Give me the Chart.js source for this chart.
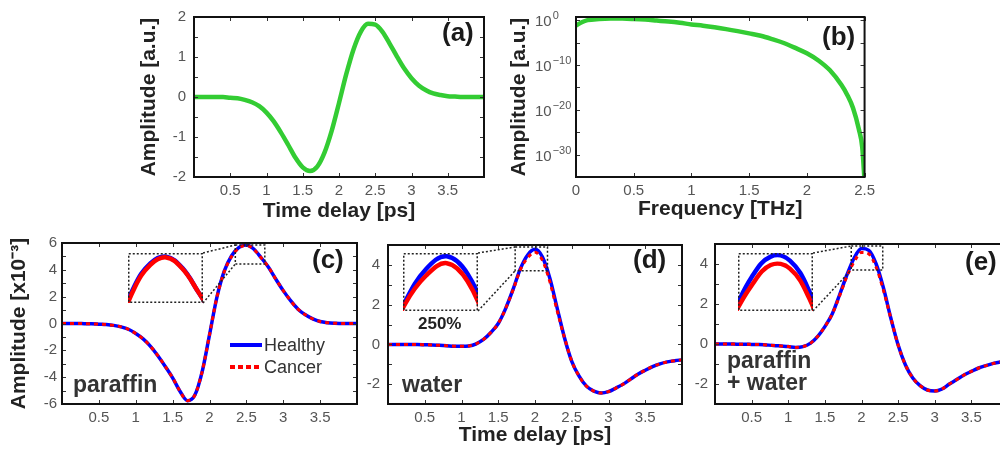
<!DOCTYPE html>
<html>
<head>
<meta charset="utf-8">
<script src="https://cdn.jsdelivr.net/npm/chart.js@4.4.1/dist/chart.umd.min.js"></script>
<style>
  html, body { margin: 0; padding: 0; background: #fff; }
  body { width: 1000px; height: 452px; overflow: hidden; position: relative; }
  canvas { position: absolute; }
</style>
</head>
<body>
<script>
// time axis shared by (a), (c), (d), (e)  [ps]
var timePs = [0, 0.1, 0.2, 0.3, 0.4, 0.5, 0.6, 0.7, 0.8, 0.9,
              1.0, 1.1, 1.2, 1.3, 1.4, 1.5, 1.6, 1.7, 1.8, 1.9,
              2.0, 2.1, 2.2, 2.3, 2.4, 2.5, 2.6, 2.7, 2.8, 2.9,
              3.0, 3.1, 3.2, 3.3, 3.4, 3.5, 3.6, 3.7, 3.8, 3.9, 4.0];

// (a) reference pulse [a.u.]
var refPulse = [0, 0, 0, 0, 0, -0.02, -0.03, -0.07, -0.13, -0.23,
                -0.39, -0.61, -0.89, -1.20, -1.52, -1.76, -1.85, -1.74, -1.39, -0.84,
                -0.15, 0.57, 1.19, 1.63, 1.83, 1.81, 1.63, 1.33, 1.01, 0.71,
                0.47, 0.29, 0.17, 0.09, 0.05, 0.02, 0.01, 0, 0, 0, 0];

// (b) reference spectrum
var freqTHz = [0, 0.05, 0.1, 0.2, 0.3, 0.4, 0.5, 0.6, 0.7, 0.8, 0.9, 1.0, 1.1, 1.2, 1.3,
               1.4, 1.5, 1.6, 1.7, 1.8, 1.9, 2.0, 2.1, 2.2, 2.3, 2.35, 2.4, 2.45, 2.48, 2.5];
var refSpectrum = [6.3e-2, 3.4e-1, 1.0, 1.8, 2.2, 2.2, 1.8, 1.3, 7.9e-1, 4.8e-1, 2.5e-1, 1.1e-1, 5.6e-2, 2.5e-2, 1.0e-2,
                   3.5e-3, 1.1e-3, 3.2e-4, 5.6e-5, 7.9e-6, 6.3e-7, 4.0e-8, 1.0e-9, 6.3e-12, 3.2e-15, 2.0e-17, 2.5e-20, 5.0e-25, 4.0e-29, 1e-36];

// (c) paraffin [x10^-3]
var paraffinHealthy = [0, 0, 0, -0.01, -0.02, -0.05, -0.08, -0.14, -0.25, -0.43,
                       -0.75, -1.15, -1.7, -2.4, -3.2, -4.05, -5.05, -5.75, -5.35, -3.6,
                       -0.85, 1.95, 3.9, 5.05, 5.67, 5.85, 5.55, 4.9, 4.2, 3.3,
                       2.45, 1.7, 1.07, 0.65, 0.35, 0.15, 0.06, 0.02, 0, 0, 0];
var paraffinCancer  = [0, 0, 0, -0.01, -0.02, -0.05, -0.08, -0.14, -0.25, -0.43,
                       -0.75, -1.15, -1.7, -2.4, -3.2, -4.05, -5.05, -5.75, -5.35, -3.6,
                       -0.85, 1.95, 3.86, 5.0, 5.63, 5.83, 5.53, 4.9, 4.2, 3.3,
                       2.45, 1.7, 1.07, 0.65, 0.35, 0.15, 0.06, 0.02, 0, 0, 0];

// (d) water
var waterHealthy = [0, 0, 0, -0.01, -0.01, -0.02, -0.03, -0.05, -0.07, -0.09,
                    -0.1, -0.08, 0.03, 0.25, 0.6, 1.05, 1.8, 2.75, 3.8, 4.5,
                    4.78, 4.4, 3.35, 1.85, 0.35, -0.85, -1.6, -2.1, -2.35, -2.45,
                    -2.38, -2.2, -2.0, -1.75, -1.5, -1.3, -1.12, -0.98, -0.88, -0.82, -0.78];
var waterCancer  = [0, 0, 0, -0.01, -0.01, -0.02, -0.03, -0.05, -0.07, -0.09,
                    -0.1, -0.08, 0.03, 0.25, 0.6, 1.05, 1.8, 2.72, 3.75, 4.36,
                    4.63, 4.24, 3.18, 1.72, 0.35, -0.85, -1.6, -2.1, -2.35, -2.45,
                    -2.38, -2.2, -2.0, -1.75, -1.5, -1.3, -1.12, -0.98, -0.88, -0.82, -0.78];

// (e) paraffin + water
var mixHealthy = [0, 0, 0, -0.01, -0.01, -0.02, -0.03, -0.05, -0.07, -0.1,
                  -0.13, -0.17, -0.13, 0.03, 0.37, 0.87, 1.5, 2.45, 3.45, 4.3,
                  4.77, 4.68, 4.0, 2.8, 1.3, -0.05, -1.05, -1.7, -2.08, -2.3,
                  -2.35, -2.25, -2.0, -1.78, -1.55, -1.37, -1.2, -1.08, -0.97, -0.9, -0.85];
var mixCancer  = [0, 0, 0, -0.01, -0.01, -0.02, -0.03, -0.05, -0.07, -0.1,
                  -0.13, -0.17, -0.13, 0.03, 0.37, 0.87, 1.5, 2.4, 3.38, 4.12,
                  4.58, 4.5, 3.84, 2.68, 1.3, -0.05, -1.05, -1.7, -2.08, -2.3,
                  -2.35, -2.25, -2.0, -1.78, -1.55, -1.37, -1.2, -1.08, -0.97, -0.9, -0.85];

// ticks
var timeTicks = [0.5, 1, 1.5, 2, 2.5, 3, 3.5];
var freqTicks = [0, 0.5, 1, 1.5, 2, 2.5];
var pulseTicks = [-2, -1.5, -1, -0.5, 0, 0.5, 1, 1.5, 2];
var pulseLabels = [-2, -1, 0, 1, 2];
var paraffinTicks = [-6, -5, -4, -3, -2, -1, 0, 1, 2, 3, 4, 5, 6];
var paraffinLabels = [-6, -4, -2, 0, 2, 4, 6];
var waterTicks = [-3, -2, -1, 0, 1, 2, 3, 4, 5];
var waterLabels = [-2, 0, 2, 4];
var spectrumTicks = [1, 1e-5, 1e-10, 1e-15, 1e-20, 1e-25, 1e-30];
var spectrumExps = [0, -10, -20, -30];

var FONT = "'Liberation Sans', Arial, Helvetica, sans-serif";
var GREEN = '#33cc33', BLUE = '#0000ff', RED = '#ff0000';
Chart.defaults.font.family = FONT;

function xy(xs, ys) {
  return xs.map(function(x, i) { return { x: x, y: ys[i] }; });
}

function addCanvas(b) {
  var c = document.createElement('canvas');
  c.width = b[2]; c.height = b[3];
  c.style.left = b[0] + 'px'; c.style.top = b[1] + 'px';
  c.style.width = b[2] + 'px'; c.style.height = b[3] + 'px';
  document.body.appendChild(c);
  return c;
}

// matlab style box with inner ticks on all sides
var frame = {
  id: 'frame',
  afterDatasetsDraw: function(chart) {
    var ctx = chart.ctx, a = chart.chartArea;
    var xs = chart.scales.x, ys = chart.scales.y;
    ctx.save();
    ctx.strokeStyle = '#333';
    ctx.lineWidth = 1;
    ctx.beginPath();
    xs.ticks.forEach(function(t) {
      var p = Math.round(xs.getPixelForValue(t.value)) + 0.5;
      ctx.moveTo(p, a.bottom); ctx.lineTo(p, a.bottom - 4);
      ctx.moveTo(p, a.top); ctx.lineTo(p, a.top + 4);
    });
    ys.ticks.forEach(function(t) {
      var p = Math.round(ys.getPixelForValue(t.value)) + 0.5;
      ctx.moveTo(a.left, p); ctx.lineTo(a.left + 4, p);
      ctx.moveTo(a.right, p); ctx.lineTo(a.right - 4, p);
    });
    ctx.stroke();
    ctx.strokeStyle = '#111';
    ctx.lineWidth = 2;
    ctx.strokeRect(a.left, a.top, a.right - a.left, a.bottom - a.top);
    ctx.restore();
  }
};

function text(ctx, s, x, y, font, color) {
  ctx.save();
  ctx.font = font;
  ctx.fillStyle = color || '#333';
  ctx.textBaseline = 'alphabetic';
  ctx.textAlign = 'left';
  ctx.fillText(s, x, y);
  ctx.restore();
}

function panel(p) {
  var bl = p.box[0], bt = p.box[1];
  var cv = addCanvas(p.box);
  var notes = {
    id: 'notes',
    afterDraw: function(chart) {
      var ctx = chart.ctx;
      ctx.save();
      ctx.translate(-bl, -bt); // page coordinates from here on
      if (p.draw) p.draw(chart, ctx, bl, bt);
      ctx.restore();
    }
  };
  var tickFont = { size: 15 };
  return new Chart(cv, {
    type: 'line',
    data: { datasets: p.datasets },
    options: {
      responsive: false,
      animation: false,
      layout: { padding: { top: p.area[1] - bt, right: bl + p.box[2] - p.area[2], left: 0, bottom: 0 } },
      plugins: { legend: { display: false }, tooltip: { enabled: false } },
      elements: { point: { radius: 0 }, line: { cubicInterpolationMode: 'monotone' } },
      scales: {
        x: {
          type: 'linear', min: p.xMin, max: p.xMax,
          grid: { display: false, drawTicks: false }, border: { display: false },
          afterFit: function(s) { s.height = bt + p.box[3] - p.area[3]; },
          afterBuildTicks: function(s) { s.ticks = p.xTicks.map(function(v) { return { value: v }; }); },
          ticks: { autoSkip: false, maxRotation: 0, padding: 5, color: '#555', font: tickFont,
                   callback: function(v) { return String(v); } },
          title: p.xTitle ? { display: true, text: p.xTitle, color: '#222',
                              font: { size: 21, weight: 'bold' }, padding: { top: 0, bottom: p.xTitlePad } }
                          : { display: false }
        },
        y: {
          type: p.yType || 'linear', min: p.yMin, max: p.yMax,
          grid: { display: false, drawTicks: false }, border: { display: false },
          afterFit: function(s) { s.width = p.area[0] - bl; },
          afterBuildTicks: function(s) { s.ticks = p.yTicks.map(function(v) { return { value: v }; }); },
          ticks: { autoSkip: false, padding: p.yPad, color: '#555', font: tickFont, callback: p.yLabel },
          title: p.yTitle ? { display: true, text: p.yTitle, color: '#222',
                              font: { size: 21, weight: 'bold' }, padding: { top: 7, bottom: 0 } }
                          : { display: false }
        }
      }
    },
    plugins: [frame, notes]
  });
}

function inset(box, xr, yr, healthy, cancer) {
  var cv = addCanvas(box);
  var border = {
    id: 'insetBorder',
    afterDraw: function(chart) {
      var ctx = chart.ctx;
      ctx.save();
      ctx.setLineDash([2, 2]);
      ctx.strokeStyle = '#222';
      ctx.lineWidth = 1.5;
      ctx.strokeRect(0.75, 0.75, box[2] - 1.5, box[3] - 1.5);
      ctx.restore();
    }
  };
  return new Chart(cv, {
    type: 'line',
    data: { datasets: [
      { data: xy(timePs, healthy), borderColor: BLUE, borderWidth: 4.5, order: 2 },
      { data: xy(timePs, cancer), borderColor: RED, borderWidth: 4.5, order: 1 }
    ] },
    options: {
      responsive: false, animation: false,
      layout: { padding: 0 },
      plugins: { legend: { display: false }, tooltip: { enabled: false } },
      elements: { point: { radius: 0 }, line: { tension: 0.4 } },
      scales: {
        x: { type: 'linear', display: false, min: xr[0], max: xr[1] },
        y: { display: false, min: yr[0], max: yr[1] }
      }
    },
    plugins: [border]
  });
}

// dotted zoom box on the main curve + lines to the inset (page coords)
function zoomBox(chart, ctx, bl, bt, zb, ib) {
  var xs = chart.scales.x, ys = chart.scales.y;
  var x0 = xs.getPixelForValue(zb[0]) + bl, x1 = xs.getPixelForValue(zb[1]) + bl;
  var yTop = ys.getPixelForValue(zb[3]) + bt, yBot = ys.getPixelForValue(zb[2]) + bt;
  ctx.save();
  ctx.setLineDash([2, 2]);
  ctx.strokeStyle = '#222';
  ctx.lineWidth = 1.5;
  ctx.strokeRect(x0, yTop, x1 - x0, yBot - yTop);
  ctx.beginPath();
  ctx.moveTo(ib[0] + ib[2], ib[1]); ctx.lineTo(x0, yTop);
  ctx.moveTo(ib[0] + ib[2], ib[1] + ib[3]); ctx.lineTo(x0, yBot);
  ctx.stroke();
  ctx.restore();
}

function mainSets(healthy, cancer) {
  return [
    { label: 'Healthy', data: xy(timePs, healthy), borderColor: BLUE, borderWidth: 3.5, order: 2 },
    { label: 'Cancer', data: xy(timePs, cancer), borderColor: RED, borderWidth: 3, borderDash: [4, 4], order: 1 }
  ];
}

function evenLabel(list) {
  return function(v) { return list.indexOf(v) >= 0 ? String(v) : ''; };
}

var LABEL = "bold 26px " + FONT;
var NOTE = "bold 23px " + FONT;

// (a)
panel({
  box: [130, 0, 365, 225], area: [194, 14, 484, 177],
  xMin: 0, xMax: 4, xTicks: timeTicks, xTitle: 'Time delay [ps]', xTitlePad: 1,
  yMin: -2, yMax: 2, yTicks: pulseTicks, yLabel: evenLabel(pulseLabels), yPad: 8,
  yTitle: 'Amplitude [a.u.]',
  datasets: [{ data: xy(timePs, refPulse), borderColor: GREEN, borderWidth: 4.5 }],
  draw: function(chart, ctx) { text(ctx, '(a)', 442, 41, LABEL, '#1a1a1a'); }
});

// (b) log axis, power-of-ten labels drawn with real superscripts
panel({
  box: [500, 0, 380, 225], area: [576, 14, 865, 177],
  xMin: 0, xMax: 2.5, xTicks: freqTicks, xTitle: 'Frequency [THz]', xTitlePad: 3,
  yType: 'logarithmic', yMin: 1e-35, yMax: 5, yTicks: spectrumTicks, yPad: 8,
  yLabel: function() { return ''; },
  yTitle: 'Amplitude [a.u.]',
  datasets: [{ data: xy(freqTHz, refSpectrum), borderColor: GREEN, borderWidth: 4.5 }],
  draw: function(chart, ctx, bl, bt) {
    var ys = chart.scales.y;
    ctx.save();
    ctx.fillStyle = '#555';
    ctx.textBaseline = 'middle';
    spectrumExps.forEach(function(e) {
      var y = ys.getPixelForValue(Math.pow(10, e)) + bt;
      ctx.font = '15px ' + FONT;
      ctx.fillText('10', 535, y + 2);
      var w = ctx.measureText('10').width;
      ctx.font = '11px ' + FONT;
      ctx.fillText(e === 0 ? '0' : '\u2212' + (-e), 535 + w + 1, y - 4);
    });
    ctx.restore();
    text(ctx, '(b)', 822, 45, LABEL, '#1a1a1a');
  }
});

// (c)
var insetC = [128, 253, 75, 50];
panel({
  box: [0, 228, 365, 224], area: [62, 243, 357, 404],
  xMin: 0, xMax: 4, xTicks: timeTicks,
  yMin: -6, yMax: 6, yTicks: paraffinTicks, yLabel: evenLabel(paraffinLabels), yPad: 5,
  yTitle: 'Amplitude [x10\u207b\u00b3]',
  datasets: mainSets(paraffinHealthy, paraffinCancer),
  draw: function(chart, ctx, bl, bt) {
    zoomBox(chart, ctx, bl, bt, [2.35, 2.75, 4.43, 5.85], insetC);
    text(ctx, '(c)', 312, 268, LABEL, '#1a1a1a');
    text(ctx, 'paraffin', 73, 392, NOTE);
    ctx.save();
    ctx.lineWidth = 4; ctx.strokeStyle = BLUE;
    ctx.beginPath(); ctx.moveTo(230, 345); ctx.lineTo(262, 345); ctx.stroke();
    ctx.strokeStyle = RED; ctx.setLineDash([5, 3]);
    ctx.beginPath(); ctx.moveTo(230, 367); ctx.lineTo(262, 367); ctx.stroke();
    ctx.restore();
    text(ctx, 'Healthy', 264, 351, '18px ' + FONT, '#333');
    text(ctx, 'Cancer', 264, 373, '18px ' + FONT, '#333');
  }
});
inset(insetC, [2.26, 2.73], [4.6, 5.95], paraffinHealthy, paraffinCancer);

// (d)
var insetD = [403, 253, 75, 58];
panel({
  box: [365, 228, 325, 224], area: [388, 242, 682, 404],
  xMin: 0, xMax: 4, xTicks: timeTicks, xTitle: 'Time delay [ps]', xTitlePad: 4,
  yMin: -3, yMax: 5, yTicks: waterTicks, yLabel: evenLabel(waterLabels), yPad: 8,
  datasets: mainSets(waterHealthy, waterCancer),
  draw: function(chart, ctx, bl, bt) {
    zoomBox(chart, ctx, bl, bt, [1.73, 2.17, 3.7, 4.9], insetD);
    text(ctx, '(d)', 633, 268, LABEL, '#1a1a1a');
    text(ctx, 'water', 402, 392, NOTE);
    text(ctx, '250%', 418, 329, 'bold 17px ' + FONT, '#222');
  }
});
inset(insetD, [1.79, 2.15], [3.6, 4.85], waterHealthy, waterCancer);

// (e)
var insetE = [738, 253, 75, 58];
panel({
  box: [690, 228, 320, 224], area: [715, 242, 1008, 404],
  xMin: 0, xMax: 4, xTicks: timeTicks,
  yMin: -3, yMax: 5, yTicks: waterTicks, yLabel: evenLabel(waterLabels), yPad: 7,
  datasets: mainSets(mixHealthy, mixCancer),
  draw: function(chart, ctx, bl, bt) {
    zoomBox(chart, ctx, bl, bt, [1.86, 2.29, 3.7, 4.9], insetE);
    text(ctx, '(e)', 965, 270, LABEL, '#1a1a1a');
    text(ctx, 'paraffin', 727, 368, NOTE);
    text(ctx, '+ water', 727, 390, NOTE);
  }
});
inset(insetE, [1.83, 2.22], [3.55, 4.85], mixHealthy, mixCancer);
</script>
</body>
</html>
